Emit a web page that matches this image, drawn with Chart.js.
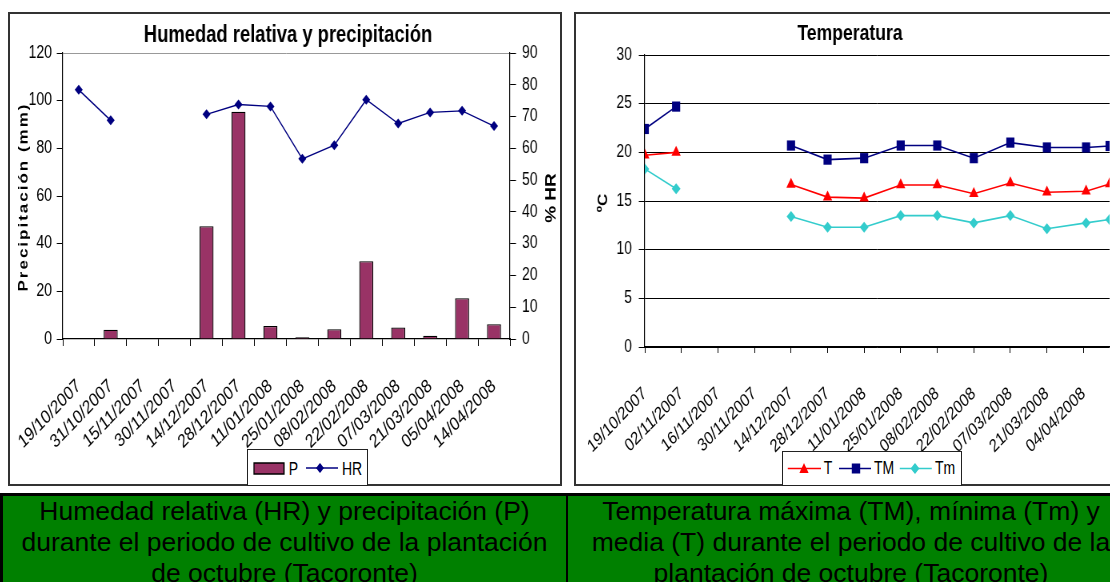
<!DOCTYPE html>
<html><head><meta charset="utf-8">
<script src="https://cdn.jsdelivr.net/npm/chart.js@4.4.1/dist/chart.umd.min.js"></script>
<style>
html,body{margin:0;padding:0;background:#fff;}
body{width:1110px;height:582px;overflow:hidden;position:relative;}
.box{position:absolute;border:2px solid #333;box-sizing:border-box;background:#fff;overflow:hidden;}
.inner{position:absolute;left:0;top:0;transform:scaleX(0.8);transform-origin:0 0;}
.inner canvas{display:block;}
.legend{position:absolute;border:1px solid #222;background:#fff;box-sizing:border-box;}
.legend svg{display:block;}
.cap{position:absolute;top:493px;height:100px;background:#008000;border-top:3px solid #000;box-sizing:border-box;
 font-family:"Liberation Sans",Arial,sans-serif;font-size:26.5px;line-height:31px;color:#000;text-align:center;white-space:nowrap;}
</style></head>
<body>
<div class="box" style="left:8px;top:12px;width:554px;height:474px;"><div class="inner"><canvas id="c1" width="688" height="470"></canvas></div></div>
<div class="box" style="left:574px;top:12px;width:560px;height:474px;"><div class="inner"><canvas id="c2" width="695" height="470"></canvas></div></div>

<div class="legend" style="left:247px;top:449px;width:121px;height:37px;">
<svg width="119" height="35" viewBox="0 0 148.75 35" preserveAspectRatio="none" font-family="'Liberation Sans',Arial,sans-serif" font-size="17.5">
<rect x="7.5" y="13" width="37.5" height="11" fill="#993366" stroke="#000" stroke-width="1.5"/>
<text x="51" y="25">P</text>
<line x1="72.5" y1="18" x2="112.5" y2="18" stroke="#000080" stroke-width="1.5"/>
<polygon points="90,13 95,18 90,23 85,18" fill="#000080"/>
<text x="117.5" y="25">HR</text>
</svg></div>

<div class="legend" style="left:782px;top:451px;width:180px;height:35px;">
<svg width="178" height="33" viewBox="0 0 222.5 33" preserveAspectRatio="none" font-family="'Liberation Sans',Arial,sans-serif" font-size="17.5">
<line x1="6" y1="16.5" x2="47.5" y2="16.5" stroke="#ff0000" stroke-width="1.5"/>
<polygon points="26.25,11 32,21 20.5,21" fill="#ff0000"/>
<text x="51" y="22.5">T</text>
<line x1="70" y1="16.5" x2="110" y2="16.5" stroke="#000080" stroke-width="1.5"/>
<rect x="86" y="11.5" width="10.5" height="10" fill="#000080"/>
<text x="113.75" y="22.5">TM</text>
<line x1="146" y1="16.5" x2="186" y2="16.5" stroke="#33cccc" stroke-width="1.5"/>
<polygon points="165,11 170.5,16.5 165,22 159.5,16.5" fill="#33cccc"/>
<text x="190" y="22.5">Tm</text>
</svg></div>

<div class="cap" style="left:0;width:568px;border-left:3px solid #000;border-right:2px solid #000;">Humedad relativa (HR) y precipitación (P)<br>durante el periodo de cultivo de la plantación<br>de octubre (Tacoronte)</div>
<div class="cap" style="left:568px;width:566px;">Temperatura máxima (TM), mínima (Tm) y<br>media (T) durante el periodo de cultivo de la<br>plantación de octubre (Tacoronte)</div>

<script>
// ---------- data: humidity & precipitation ----------
const pCategories = ['19/10/2007','31/10/2007','15/11/2007','30/11/2007','14/12/2007','28/12/2007','11/01/2008','25/01/2008','08/02/2008','22/02/2008','07/03/2008','21/03/2008','05/04/2008','14/04/2008'];
const precipitation = [null, 3.9, null, null, 47.3, 95.4, 5.5, 0.7, 4.1, 32.6, 4.8, 1.4, 17.1, 6.2];
const humidity = [78.4, 68.8, null, null, 70.7, 73.8, 73.2, 56.7, 61.0, 75.3, 67.8, 71.3, 71.8, 67.0];
const precipTicks = [0, 20, 40, 60, 80, 100, 120];
const hrTicks = [0, 10, 20, 30, 40, 50, 60, 70, 80, 90];

// ---------- data: temperature ----------
const tempDates = ['19/10/2007','31/10/2007','15/11/2007','30/11/2007','14/12/2007','28/12/2007','11/01/2008','25/01/2008','08/02/2008','22/02/2008','07/03/2008','21/03/2008','05/04/2008','14/04/2008'];
const tempT  = [19.7, 20.0, null, null, 16.7, 15.4, 15.3, 16.65, 16.65, 15.75, 16.85, 15.9, 16.0, 16.75];
const tempTM = [22.4, 24.7, null, null, 20.7, 19.25, 19.4, 20.7, 20.7, 19.4, 21.0, 20.5, 20.5, 20.65];
const tempTm = [18.3, 16.25, null, null, 13.4, 12.3, 12.3, 13.5, 13.5, 12.75, 13.5, 12.15, 12.75, 13.1];
const tempTickLabels = ['19/10/2007','02/11/2007','16/11/2007','30/11/2007','14/12/2007','28/12/2007','11/01/2008','25/01/2008','08/02/2008','22/02/2008','07/03/2008','21/03/2008','04/04/2008'];
const tempYTicks = [0, 5, 10, 15, 20, 25, 30];

const REG = '"Liberation Sans",Arial,sans-serif';

function dayIndex(s) {
  const [d, m, y] = s.split('/').map(Number);
  const [d0, m0, y0] = tempTickLabels[0].split('/').map(Number);
  return Math.round((Date.UTC(y, m - 1, d) - Date.UTC(y0, m0 - 1, d0)) / 86400000);
}

const textPlugin = {
  id: 'texts',
  afterDraw(chart, args, opts) {
    const ctx = chart.ctx;
    (opts.items || []).forEach(it => {
      ctx.save();
      ctx.font = it.font;
      ctx.fillStyle = '#000';
      if ('letterSpacing' in ctx) ctx.letterSpacing = it.ls || '0px';
      ctx.textAlign = 'center';
      ctx.textBaseline = 'middle';
      ctx.translate(it.x, it.y);
      if (it.rot) ctx.rotate(it.rot);
      ctx.fillText(it.text, 0, 0);
      ctx.restore();
    });
  }
};

function fixTicks(list) { return s => { s.ticks = list.map(v => ({ value: v })); }; }

// ---------- chart 1 ----------
new Chart(document.getElementById('c1'), {
  type: 'bar',
  data: {
    labels: pCategories,
    datasets: [
      { type: 'line', label: 'HR', data: humidity, yAxisID: 'y1', borderColor: '#000080', backgroundColor: '#000080',
        borderWidth: 1.4, pointStyle: 'rectRot', pointRadius: 5, pointBorderWidth: 0, spanGaps: false, order: 0 },
      { type: 'bar', label: 'P', data: precipitation, yAxisID: 'y', backgroundColor: '#993366', borderColor: '#000',
        borderWidth: 1.3, barPercentage: 0.44, categoryPercentage: 1, order: 1 }
    ]
  },
  options: {
    responsive: false, animation: false, devicePixelRatio: 1,
    layout: { padding: { top: 39, left: 0, right: 0, bottom: 0 } },
    plugins: {
      legend: { display: false }, title: { display: false }, tooltip: { enabled: false },
      texts: { items: [
        { text: 'Humedad relativa y precipitación', x: 347.5, y: 22, font: 'bold 23px ' + REG },
        { text: 'Precipitación (mm)', x: 17, y: 183, rot: -Math.PI / 2, font: 'bold 17px ' + REG, ls: '2px' },
        { text: '% HR', x: 677, y: 184, rot: -Math.PI / 2, font: 'bold 19px ' + REG }
      ] }
    },
    scales: {
      x: {
        offset: true,
        grid: { display: true, drawOnChartArea: false, tickLength: 7, tickColor: '#000', offset: true },
        border: { color: '#000', width: 1.2 },
        ticks: { maxRotation: 40, minRotation: 40, autoSkip: false, padding: 29, color: '#000', font: { family: REG, size: 19 } },
        afterFit(s) { s.height = 145; s.paddingLeft = 0; s.paddingRight = 0; }
      },
      y: {
        position: 'left', min: 0, max: 120,
        afterBuildTicks: fixTicks(precipTicks),
        ticks: { padding: 6, color: '#000', font: { family: REG, size: 17.5 } },
        grid: { color: c => (c.tick && c.tick.value === 120 ? '#999' : 'rgba(0,0,0,0)'), tickColor: '#000', tickLength: 7.5 },
        border: { color: '#000', width: 1.2 },
        afterFit(s) { s.width = 66; }
      },
      y1: {
        position: 'right', min: 0, max: 90,
        afterBuildTicks: fixTicks(hrTicks),
        ticks: { padding: 7.5, color: '#000', font: { family: REG, size: 17.5 } },
        grid: { drawOnChartArea: false, tickColor: '#000', tickLength: 7.5 },
        border: { color: '#000', width: 1.2 },
        afterFit(s) { s.width = 63; }
      }
    }
  },
  plugins: [textPlugin]
});

// ---------- chart 2 ----------
function series(label, vals, color, style, radius) {
  return { label, data: tempDates.map((d, i) => ({ x: dayIndex(d), y: vals[i] })), borderColor: color, backgroundColor: color,
    borderWidth: 1.6, pointStyle: style, pointRadius: radius, pointBorderWidth: 0, spanGaps: false };
}
new Chart(document.getElementById('c2'), {
  type: 'line',
  data: { datasets: [
    series('T', tempT, '#ff0000', 'triangle', 6.7),
    series('TM', tempTM, '#000080', 'rect', 7.2),
    series('Tm', tempTm, '#33cccc', 'rectRot', 5.5)
  ] },
  options: {
    responsive: false, animation: false, devicePixelRatio: 1,
    layout: { padding: { top: 41, left: 0, right: 28, bottom: 0 } },
    plugins: {
      legend: { display: false }, title: { display: false }, tooltip: { enabled: false },
      texts: { items: [
        { text: 'Temperatura', x: 342.5, y: 20, font: 'bold 22px ' + REG },
        { text: 'ºC', x: 34, y: 189, rot: -Math.PI / 2, font: 'bold 17px ' + REG }
      ] }
    },
    scales: {
      x: {
        type: 'linear', min: 0, max: dayIndex(tempDates[tempDates.length - 1]),
        afterBuildTicks(s) { s.ticks = tempTickLabels.map(l => ({ value: dayIndex(l) })); },
        grid: { display: true, drawOnChartArea: false, tickLength: 6, tickColor: '#000' },
        border: { color: '#000', width: 1.2 },
        ticks: { maxRotation: 40, minRotation: 40, autoSkip: false, padding: 30, color: '#000', font: { family: REG, size: 18 },
          callback: (v, i) => tempTickLabels[i] },
        afterFit(s) { s.height = 137; s.paddingLeft = 0; s.paddingRight = 0; }
      },
      y: {
        min: 0, max: 30,
        afterBuildTicks: fixTicks(tempYTicks),
        ticks: { padding: 8.5, color: '#000', font: { family: REG, size: 17.5 } },
        grid: { color: '#000', lineWidth: 1, tickColor: '#000', tickLength: 7.5 },
        border: { color: '#000', width: 1.2 },
        afterFit(s) { s.width = 86; }
      }
    }
  },
  plugins: [textPlugin]
});
</script>
</body></html>
